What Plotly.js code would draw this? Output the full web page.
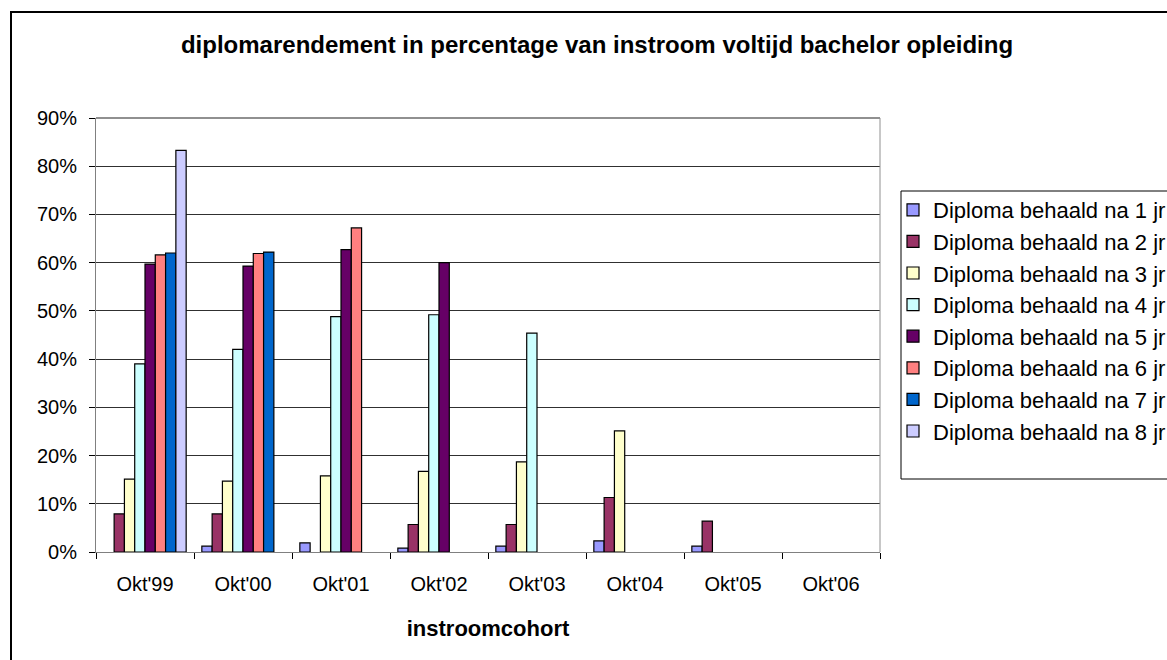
<!DOCTYPE html>
<html>
<head>
<meta charset="utf-8">
<script src="https://cdn.plot.ly/plotly-3.0.1.min.js"></script>
<style>
  html, body { margin: 0; padding: 0; background: #fff; overflow: hidden; }
  #chart { width: 1167px; height: 660px; }
</style>
</head>
<body>
<div id="chart"></div>
<script>
// Categories (instroomcohort)
const categories = ["Okt'99", "Okt'00", "Okt'01", "Okt'02", "Okt'03", "Okt'04", "Okt'05", "Okt'06"];

// Series names
const seriesNames = [
  "Diploma behaald na 1 jr",
  "Diploma behaald na 2 jr",
  "Diploma behaald na 3 jr",
  "Diploma behaald na 4 jr",
  "Diploma behaald na 5 jr",
  "Diploma behaald na 6 jr",
  "Diploma behaald na 7 jr",
  "Diploma behaald na 8 jr"
];

// Values in percent (null = no bar)
const na1jr = [null, 1.2, 1.9, 0.8, 1.2, 2.3, 1.2, null];
const na2jr = [7.9, 7.9, null, 5.7, 5.7, 11.3, 6.4, null];
const na3jr = [15.1, 14.7, 15.8, 16.7, 18.7, 25.1, null, null];
const na4jr = [39.0, 42.0, 48.8, 49.2, 45.4, null, null, null];
const na5jr = [59.7, 59.3, 62.7, 60.0, null, null, null, null];
const na6jr = [61.6, 61.9, 67.2, null, null, null, null, null];
const na7jr = [62.0, 62.2, null, null, null, null, null, null];
const na8jr = [83.3, null, null, null, null, null, null, null];

const seriesValues = [na1jr, na2jr, na3jr, na4jr, na5jr, na6jr, na7jr, na8jr];
const seriesColors = ["#9999FF", "#993366", "#FFFFCC", "#CCFFFF", "#660066", "#FF8080", "#0066CC", "#CCCCFF"];

// Y axis ticks
const yTickVals = [0, 10, 20, 30, 40, 50, 60, 70, 80, 90];

const traces = seriesNames.map((name, i) => ({
  type: 'bar',
  name: name,
  x: categories,
  y: seriesValues[i],
  marker: { color: seriesColors[i], line: { color: '#000000', width: 1.2 } },
  hoverinfo: 'x+y+name'
}));

const font = "Liberation Sans, Arial, Helvetica, sans-serif";

// Plot area in pixels (layout only)
const L = 96, R = 880, T = 118, B = 552;
const W = 1167, H = 660;
const pw = R - L, ph = B - T;
const px = v => (v - L) / pw;          // pixel x -> paper x
const py = v => (B - v) / ph;          // pixel y -> paper y

const layout = {
  width: W,
  height: H,
  margin: { l: L, r: W - R, t: T, b: H - B, pad: 0, autoexpand: false },
  paper_bgcolor: '#ffffff',
  plot_bgcolor: '#ffffff',
  font: { family: font, color: '#000000', size: 20 },
  title: {
    text: '<b>diplomarendement in percentage van instroom voltijd bachelor opleiding</b>',
    font: { family: font, size: 24, color: '#000000' },
    xref: 'container', x: 597 / W, xanchor: 'center',
    yref: 'container', y: 1 - 45 / H, yanchor: 'middle'
  },
  barmode: 'group',
  bargap: 0.16,
  bargroupgap: 0,
  showlegend: true,
  legend: {
    x: px(893), xanchor: 'left',
    y: py(189), yanchor: 'top',
    bgcolor: 'rgba(0,0,0,0)',
    borderwidth: 0,
    font: { family: font, size: 22, color: '#000000' },
    traceorder: 'normal'
  },
  xaxis: {
    type: 'category',
    categoryorder: 'array',
    categoryarray: categories,
    showline: true,
    linecolor: '#808080',
    linewidth: 1,
    ticks: 'outside',
    tickson: 'boundaries',
    ticklen: 6,
    tickcolor: '#000000',
    tickfont: { family: font, size: 20, color: '#000000' },
    ticklabelstandoff: 14,
    showgrid: false,
    zeroline: false,
    mirror: false,
    title: {
      text: '<b>instroomcohort</b>',
      font: { family: font, size: 22, color: '#000000' },
      standoff: 26
    }
  },
  yaxis: {
    range: [0, 90],
    tickvals: yTickVals,
    ticktext: yTickVals.map(v => v + '%'),
    showline: true,
    linecolor: '#808080',
    linewidth: 1,
    ticks: 'outside',
    ticklen: 6,
    tickcolor: '#000000',
    tickfont: { family: font, size: 20, color: '#000000' },
    ticklabelstandoff: 8,
    showgrid: true,
    gridcolor: '#303030',
    gridwidth: 1,
    zeroline: false,
    fixedrange: true
  },
  shapes: [
    // plot area border (top + right), grey
    { type: 'line', xref: 'paper', yref: 'paper', x0: 0, x1: 1, y0: 1, y1: 1, line: { color: '#909090', width: 2 } },
    { type: 'line', xref: 'paper', yref: 'paper', x0: 1, x1: 1, y0: 0, y1: 1, line: { color: '#909090', width: 1 } },
    // legend box
    { type: 'rect', xref: 'paper', yref: 'paper', x0: px(901), x1: px(1180), y0: py(191), y1: py(479), line: { color: '#000000', width: 1 }, fillcolor: 'rgba(0,0,0,0)', layer: 'below' },
    // outer chart border
    { type: 'rect', xref: 'paper', yref: 'paper', x0: px(11), x1: px(1190), y0: py(12), y1: py(700), line: { color: '#000000', width: 2 }, fillcolor: 'rgba(0,0,0,0)', layer: 'below' }
  ]
};

Plotly.newPlot('chart', traces, layout, { displayModeBar: false, staticPlot: true });
</script>
</body>
</html>
